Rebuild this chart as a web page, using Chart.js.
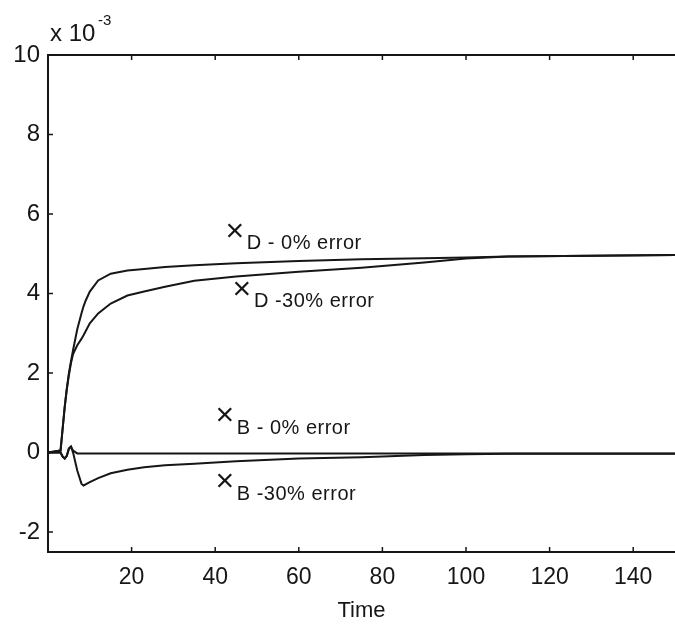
<!DOCTYPE html>
<html>
<head>
<meta charset="utf-8">
<script src="https://cdn.jsdelivr.net/npm/chart.js@4"></script>
<style>
  html, body { margin: 0; padding: 0; background: #fff; }
  #wrap { width: 675px; height: 624px; }
</style>
</head>
<body>
<div id="wrap"><canvas id="c" width="675" height="624"></canvas></div>
<script>
// time samples shared by all four curves
const time = [0, 3, 3.5, 4, 4.5, 5, 5.5, 6, 7, 8, 8.5, 9, 10, 12, 15, 19, 23, 28, 35, 45, 60, 75, 90, 100, 110, 130, 150];

// values in units of 1e-3
const d0 = [0, 0.05, 0.6, 1.15, 1.6, 2.0, 2.3, 2.58, 3.1, 3.5, 3.68, 3.82, 4.05, 4.33, 4.5, 4.58, 4.62, 4.67, 4.71, 4.76, 4.82, 4.86, 4.89, 4.91, 4.93, 4.95, 4.97];
const d30 = [0, 0.05, 0.6, 1.15, 1.6, 1.95, 2.25, 2.48, 2.7, 2.86, 2.95, 3.05, 3.25, 3.5, 3.75, 3.95, 4.05, 4.17, 4.32, 4.43, 4.55, 4.65, 4.78, 4.88, 4.93, 4.95, 4.97];
const b0 = [0, 0, -0.1, -0.15, -0.08, 0.1, 0.15, 0.05, -0.02, -0.02, -0.02, -0.02, -0.02, -0.02, -0.02, -0.02, -0.02, -0.02, -0.02, -0.02, -0.02, -0.02, -0.02, -0.02, -0.02, -0.02, -0.02];
const b30 = [0, 0, -0.1, -0.15, -0.08, 0.1, 0.15, 0.0, -0.45, -0.78, -0.83, -0.8, -0.74, -0.64, -0.52, -0.43, -0.37, -0.32, -0.28, -0.22, -0.15, -0.12, -0.06, -0.04, -0.03, -0.03, -0.03];

const xTicks = [20, 40, 60, 80, 100, 120, 140];
const yTicks = [-2, 0, 2, 4, 6, 8, 10];

const curveLabels = ['D - 0% error', 'D -30% error', 'B - 0% error', 'B -30% error'];

const FONT = "'Liberation Sans', Arial, sans-serif";
const INK = '#161616';

function pts(vals) {
  return time.map((t, i) => ({ x: t, y: vals[i] }));
}

const lineStyle = { borderColor: INK, borderWidth: 2, pointRadius: 0, fill: false, tension: 0 };

// frame, inward ticks, exponent and curve labels
const decor = {
  id: 'decor',
  afterDraw(chart) {
    const { ctx, chartArea: a, scales: { x, y } } = chart;
    ctx.save();
    ctx.strokeStyle = INK;
    ctx.lineWidth = 2;
    ctx.beginPath();
    ctx.moveTo(a.right + 2, a.top);
    ctx.lineTo(a.left, a.top);
    ctx.lineTo(a.left, a.bottom);
    ctx.lineTo(a.right + 2, a.bottom);
    ctx.stroke();

    ctx.lineWidth = 1.5;
    ctx.beginPath();
    xTicks.forEach(v => {
      const px = x.getPixelForValue(v);
      ctx.moveTo(px, a.bottom); ctx.lineTo(px, a.bottom - 5);
      ctx.moveTo(px, a.top); ctx.lineTo(px, a.top + 5);
    });
    yTicks.forEach(v => {
      const py = y.getPixelForValue(v);
      ctx.moveTo(a.left, py); ctx.lineTo(a.left + 5, py);
    });
    ctx.stroke();

    // exponent
    ctx.fillStyle = INK;
    ctx.textBaseline = 'alphabetic';
    ctx.textAlign = 'left';
    ctx.font = '24px ' + FONT;
    ctx.fillText('x 10', a.left + 2, a.top - 14);
    ctx.font = '15px ' + FONT;
    ctx.fillText('-3', a.left + 50, a.top - 30);

    // curve labels, anchored in data coordinates
    const marks = [[44.7, 5.55], [46.4, 4.09], [42.3, 0.92], [42.3, -0.74]];
    marks.forEach((m, i) => {
      const px = x.getPixelForValue(m[0]);
      const py = y.getPixelForValue(m[1]);
      ctx.textAlign = 'center';
      ctx.textBaseline = 'middle';
      ctx.font = '32px ' + FONT;
      ctx.fillText('\u00d7', px, py);
      ctx.textAlign = 'left';
      ctx.font = '20px ' + FONT;
      ctx.letterSpacing = '0.5px';
      ctx.fillText(curveLabels[i], px + 12, py + 12);
      ctx.letterSpacing = '0px';
    });
    ctx.restore();
  }
};

new Chart(document.getElementById('c'), {
  type: 'line',
  data: {
    datasets: [
      { label: curveLabels[0], data: pts(d0), ...lineStyle },
      { label: curveLabels[1], data: pts(d30), ...lineStyle },
      { label: curveLabels[2], data: pts(b0), ...lineStyle },
      { label: curveLabels[3], data: pts(b30), ...lineStyle }
    ]
  },
  options: {
    responsive: false,
    animation: false,
    layout: { padding: { top: 55, right: 0, left: 0, bottom: 0 } },
    plugins: { legend: { display: false }, tooltip: { enabled: false } },
    scales: {
      x: {
        type: 'linear',
        min: 0,
        max: 150,
        afterBuildTicks: s => { s.ticks = xTicks.map(v => ({ value: v })); },
        afterFit: s => { s.height = 72; },
        grid: { display: false, drawTicks: false },
        border: { display: false },
        ticks: { color: INK, padding: 12, maxRotation: 0, font: { family: FONT, size: 23 } },
        title: { display: true, text: 'Time', color: INK, padding: { top: -3, bottom: 0 }, font: { family: FONT, size: 22 } }
      },
      y: {
        min: -2.5,
        max: 10,
        afterBuildTicks: s => { s.ticks = yTicks.map(v => ({ value: v })); },
        afterFit: s => { s.width = 48; },
        grid: { display: false, drawTicks: false },
        border: { display: false },
        ticks: { color: INK, padding: 8, font: { family: FONT, size: 24 } }
      }
    }
  },
  plugins: [decor]
});
</script>
</body>
</html>
